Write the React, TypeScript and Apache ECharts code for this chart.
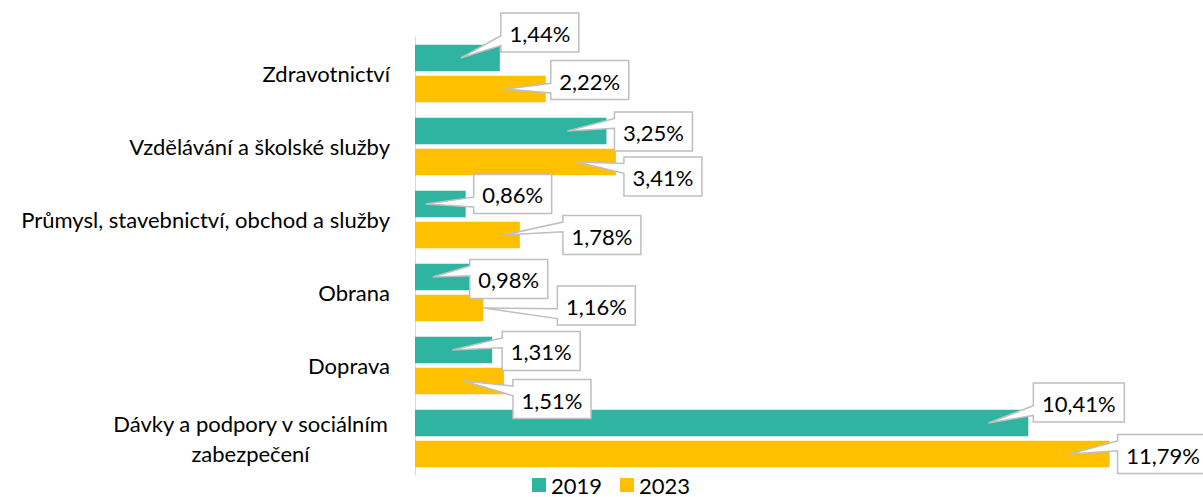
import React, { useEffect, useRef } from "react";
import * as echarts from "echarts";

const categories = [
  "Zdravotnictví",
  "Vzdělávání a školské služby",
  "Průmysl, stavebnictví, obchod a služby",
  "Obrana",
  "Doprava",
  "Dávky a podpory v sociálním zabezpečení",
];
const seriesNames = ["2019", "2023"];
const values2019 = [1.44, 3.25, 0.86, 0.98, 1.31, 10.41];
const values2023 = [2.22, 3.41, 1.78, 1.16, 1.51, 11.79];

// callout placement (layout only): box left offset from bar end, box centre offset from bar centre, tip offset from bar end
const boxDx = [
  [1, 8, 8, -3, 10, 5],
  [5, 8, 43, 74, 9, 8],
];
const boxDy = [
  [-25.5, 0.5, -10, 2, 1, -20.5],
  [-9, 14.5, 0, -2.5, 18, 0],
];
const tipDx = [
  [-39, -39, -40, -40, -40, -40],
  [-41, -39, -16, 0, -40, -40],
];

const COLORS = ["#2eb4a0", "#ffc000"];
const FONT = "Lato";
const FS = 22;
const CAT_GAP = 0.21;
const BAR_GAP = 0.17;

function fmt(v: number) {
  return v.toFixed(2).replace(".", ",") + "%";
}

function calloutPoints(x1: number, y1: number, w: number, h: number, tx: number, ty: number) {
  const x2 = x1 + w, y2 = y1 + h;
  const cx = x1 + w / 2, cy = y1 + h / 2;
  const dxPos = tx - cx, dyPos = ty - cy;
  const inside = tx >= x1 && tx <= x2 && ty >= y1 && ty <= y2;
  if (inside) return [[x1, y1], [x2, y1], [x2, y2], [x1, y2]];
  const xb1 = x1 + (w * (dxPos > 0 ? 7 : 2)) / 12;
  const xb2 = x1 + (w * (dxPos > 0 ? 10 : 5)) / 12;
  const yb1 = y1 + (h * (dyPos > 0 ? 7 : 2)) / 12;
  const yb2 = y1 + (h * (dyPos > 0 ? 10 : 5)) / 12;
  if (Math.abs(dxPos * h) > Math.abs(dyPos * w)) {
    if (dxPos < 0) {
      return [[x1, y1], [x2, y1], [x2, y2], [x1, y2], [x1, yb2], [tx, ty], [x1, yb1]];
    }
    return [[x1, y1], [x2, y1], [x2, yb1], [tx, ty], [x2, yb2], [x2, y2], [x1, y2]];
  }
  if (dyPos < 0) {
    return [[x1, y1], [xb1, y1], [tx, ty], [xb2, y1], [x2, y1], [x2, y2], [x1, y2]];
  }
  return [[x1, y1], [x2, y1], [x2, y2], [xb2, y2], [tx, ty], [xb1, y2], [x1, y2]];
}

export default function App() {
  const ref = useRef<HTMLDivElement>(null);
  useEffect(() => {
    document.body.style.margin = "0";
    const chart = echarts.init(ref.current!, undefined, { renderer: "svg" });
    const labelData: number[][] = [];
    [values2019, values2023].forEach((arr, s) =>
      arr.forEach((v, c) => labelData.push([v, c, s]))
    );
    chart.setOption({
      animation: false,
      textStyle: { fontFamily: FONT },
      grid: { left: 415, right: 81, top: 37, bottom: 22, containLabel: false },
      legend: {
        data: seriesNames,
        left: 532,
        top: 474,
        padding: 0,
        icon: "rect",
        itemWidth: 14,
        itemHeight: 14,
        itemGap: 18,
        textStyle: { fontSize: FS, color: "#000", fontFamily: FONT, lineHeight: 22 },
      },
      xAxis: { type: "value", min: 0, max: 12, show: false },
      yAxis: {
        type: "category",
        data: categories,
        inverse: true,
        axisLine: { show: true, lineStyle: { color: "#d9d9d9", width: 1 } },
        axisTick: { show: false },
        axisLabel: {
          margin: 25,
          fontSize: FS,
          color: "#000",
          fontFamily: FONT,
          formatter: (val: string) => {
            if (val === categories[5]) {
              return "{c|Dávky a podpory v sociálním}\n{c|zabezpečení}";
            }
            return val;
          },
          rich: {
            c: { width: 279, align: "center", fontSize: FS, lineHeight: 30, color: "#000", fontFamily: FONT },
          },
        },
      },
      series: [
        {
          name: seriesNames[0],
          type: "bar",
          data: values2019,
          itemStyle: { color: COLORS[0] },
          barCategoryGap: CAT_GAP * 100 + "%",
          barGap: BAR_GAP * 100 + "%",
        },
        {
          name: seriesNames[1],
          type: "bar",
          data: values2023,
          itemStyle: { color: COLORS[1] },
          barCategoryGap: CAT_GAP * 100 + "%",
          barGap: BAR_GAP * 100 + "%",
        },
        {
          name: "labels",
          type: "custom",
          z: 10,
          silent: true,
          data: labelData,
          encode: { x: 0, y: 1 },
          renderItem: (params: any, api: any) => {
            const v = api.value(0) as number;
            const c = api.value(1) as number;
            const s = api.value(2) as number;
            const end = api.coord([v, c]);
            const band = api.size([0, 1])[1];
            const region = band * (1 - CAT_GAP);
            const bw = region / (2 + BAR_GAP);
            const yc = end[1] - region / 2 + s * bw * (1 + BAR_GAP) + bw / 2;
            const text = fmt(v);
            const w = text.length >= 6 ? 91 : 78;
            const h = 39;
            const bx = end[0] + boxDx[s][c];
            const by = yc + boxDy[s][c] - h / 2;
            const tx = end[0] + tipDx[s][c];
            const ty = yc;
            return {
              type: "group",
              children: [
                {
                  type: "polygon",
                  shape: { points: calloutPoints(bx, by, w, h, tx, ty) },
                  style: { fill: "#fff", stroke: "#bfbfbf", lineWidth: 1.5 },
                },
                {
                  type: "text",
                  style: {
                    text,
                    x: bx + w / 2,
                    y: by + h / 2 + 1,
                    align: "center",
                    verticalAlign: "middle",
                    fontSize: FS,
                    fontFamily: FONT,
                    fill: "#000",
                  },
                },
              ],
            };
          },
        },
      ],
    });
    return () => chart.dispose();
  }, []);
  return <div ref={ref} style={{ width: 1203, height: 497 }} />;
}
